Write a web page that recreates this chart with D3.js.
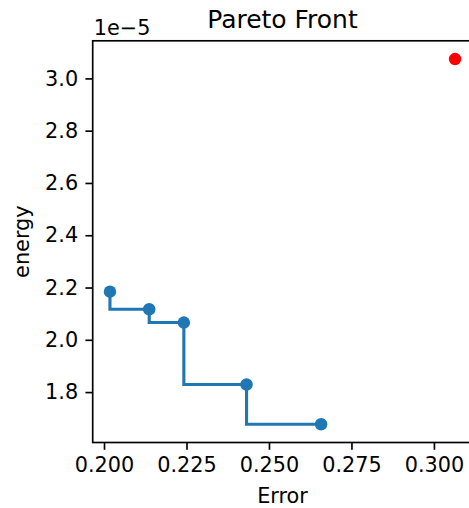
<!DOCTYPE html>
<html>
<head>
<meta charset="utf-8">
<script src="https://cdn.jsdelivr.net/npm/d3@7"></script>
<style>
  html, body { margin: 0; padding: 0; background: #fff; }
  svg { display: block; overflow: hidden; }
  text { font-family: "DejaVu Sans", sans-serif; fill: #000; }
</style>
</head>
<body>
<svg id="chart" width="469" height="508"></svg>
<script>
// Pareto-optimal solutions (error vs. energy, energy in units of 1e-5)
const frontError  = [0.2018, 0.2137, 0.2242, 0.2432, 0.2658];
const frontEnergy = [2.184, 2.117, 2.066, 1.829, 1.677];
// Dominated solution
const otherError  = [0.3064];
const otherEnergy = [3.074];

const xTicks = [0.200, 0.225, 0.250, 0.275, 0.300];
const xTickLabels = ["0.200", "0.225", "0.250", "0.275", "0.300"];
const yTicks = [1.8, 2.0, 2.2, 2.4, 2.6, 2.8, 3.0];
const yTickLabels = ["1.8", "2.0", "2.2", "2.4", "2.6", "2.8", "3.0"];
const offsetLabel = "1e\u22125";

const pt = 2.08;                 // pixels per point
const box = { left: 92.7, right: 472.3, top: 40.8, bottom: 442.5 };

const svg = d3.select("#chart");

// 5% margins around the data, like the default autoscale
const allX = frontError.concat(otherError);
const allY = frontEnergy.concat(otherEnergy);
const pad = (ext) => { const d = (ext[1] - ext[0]) * 0.05; return [ext[0] - d, ext[1] + d]; };

const x = d3.scaleLinear().domain(pad(d3.extent(allX))).range([box.left, box.right]);
const y = d3.scaleLinear().domain(pad(d3.extent(allY))).range([box.bottom, box.top]);

const blue = "#1f77b4";

// Step line through the front (vertical first, then horizontal)
const front = frontError.map((e, i) => [e, frontEnergy[i]]);
svg.append("path")
  .datum(front)
  .attr("fill", "none")
  .attr("stroke", blue)
  .attr("stroke-width", 1.5 * pt)
  .attr("d", d3.line().x(d => x(d[0])).y(d => y(d[1])).curve(d3.curveStepBefore));

svg.append("g").selectAll("circle")
  .data(front)
  .join("circle")
  .attr("cx", d => x(d[0]))
  .attr("cy", d => y(d[1]))
  .attr("r", 3 * pt)
  .attr("fill", blue);

svg.append("g").selectAll("circle")
  .data(otherError.map((e, i) => [e, otherEnergy[i]]))
  .join("circle")
  .attr("cx", d => x(d[0]))
  .attr("cy", d => y(d[1]))
  .attr("r", 3 * pt)
  .attr("fill", "red");

// Axes
const fs = 10 * pt;
const xAxis = d3.axisBottom(x)
  .tickValues(xTicks)
  .tickFormat((d, i) => xTickLabels[i])
  .tickSize(3.5 * pt)
  .tickPadding(3.5 * pt)
  .tickSizeOuter(0);
const gx = svg.append("g")
  .attr("transform", `translate(0,${box.bottom})`)
  .call(xAxis);
gx.select(".domain").remove();
gx.selectAll(".tick line").attr("stroke", "#000").attr("stroke-width", 0.8 * pt);
gx.selectAll(".tick text").attr("font-size", fs).attr("font-family", "DejaVu Sans").attr("fill", "#000");

const yAxis = d3.axisLeft(y)
  .tickValues(yTicks)
  .tickFormat((d, i) => yTickLabels[i])
  .tickSize(3.5 * pt)
  .tickPadding(3.5 * pt)
  .tickSizeOuter(0);
const gy = svg.append("g")
  .attr("transform", `translate(${box.left},0)`)
  .call(yAxis);
gy.select(".domain").remove();
gy.selectAll(".tick line").attr("stroke", "#000").attr("stroke-width", 0.8 * pt);
gy.selectAll(".tick text").attr("font-size", fs).attr("font-family", "DejaVu Sans").attr("fill", "#000");

// Frame
svg.append("rect")
  .attr("x", box.left).attr("y", box.top)
  .attr("width", box.right - box.left).attr("height", box.bottom - box.top)
  .attr("fill", "none")
  .attr("stroke", "#000")
  .attr("stroke-width", 0.8 * pt);

// Labels
svg.append("text")
  .attr("x", (box.left + box.right) / 2)
  .attr("y", 27.5)
  .attr("text-anchor", "middle")
  .attr("font-size", 12 * pt)
  .text("Pareto Front");

svg.append("text")
  .attr("x", box.left + 1)
  .attr("y", 34.5)
  .attr("font-size", fs)
  .text(offsetLabel);

svg.append("text")
  .attr("x", (box.left + box.right) / 2)
  .attr("y", 503)
  .attr("text-anchor", "middle")
  .attr("font-size", fs)
  .text("Error");

svg.append("text")
  .attr("transform", `translate(29,${(box.top + box.bottom) / 2}) rotate(-90)`)
  .attr("text-anchor", "middle")
  .attr("font-size", fs)
  .text("energy");
</script>
</body>
</html>
